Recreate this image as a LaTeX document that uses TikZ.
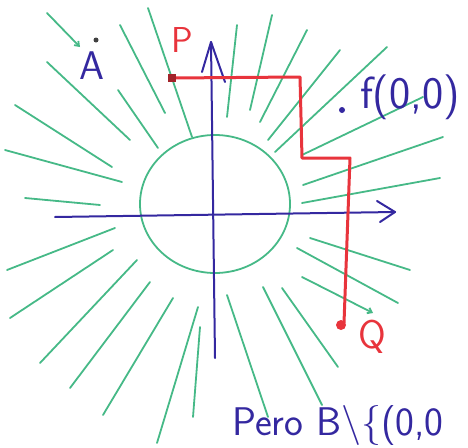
\documentclass[tikz,border=0pt]{standalone}
\usepackage{fontspec}
\usetikzlibrary{arrows.meta}
\definecolor{raygreen}{RGB}{70,185,135}
\definecolor{axblue}{RGB}{52,40,160}
\definecolor{penred}{RGB}{232,52,60}
\begin{document}
\begin{tikzpicture}[x=1pt,y=-1pt,
  ray/.style={draw=raygreen, line width=1.8pt, line cap=round},
  axis/.style={draw=axblue, line width=2pt, line cap=round, line join=round},
  redpath/.style={draw=penred, line width=3pt, line join=round, line cap=round},
  hand/.style={inner sep=0pt}]
\useasboundingbox (0,0) rectangle (468,447);
\clip (0,0) rectangle (468,447);
% rays (outer end -> inner end)
\foreach \xa/\ya/\xb/\yb in {
  47/62/130/140, 15/105/112/167, 5/150/122/182, 25/198/100/205,
  118/90/158/148, 120/25/165/113, 148/8/192/137, 237/25/227/117,
  272/15/250/110, 307/30/260/122, 340/50/268/140, 387/47/275/152,
  423/97/302/155, 443/137/303/185, 440/178/302/203,
  7/270/115/228, 10/318/113/250, 40/363/137/260, 70/388/150/282,
  103/415/173/298, 157/443/198/307, 193/417/200/327,
  410/270/310/238, 398/303/297/248, 338/367/282/288,
  322/405/263/287, 268/417/227/295}
  \draw[ray] (\xa,\ya) -- (\xb,\yb);
\draw[ray, -{Straight Barb[length=4pt,width=6pt]}] (47,13) -- (80,47);
\draw[ray, -{Straight Barb[length=4pt,width=6pt]}] (302,277) -- (373,313);
% circle
\draw[ray] (215,204) ellipse [x radius=75, y radius=69];
% axes
\coordinate (xs) at (55,217);
\coordinate (xe) at (395,212);
\coordinate (ys) at (215,358);
\coordinate (ye) at (211,42);
\draw[axis] (xs) -- (xe);
\draw[axis] (377,201) -- (xe) -- (380,222);
\draw[axis] (ys) -- (ye);
\draw[axis] (202,72) -- (ye) -- (225,82);
% red path
\coordinate (P) at (172,78);
\coordinate (Q) at (344,323);
\draw[redpath] (P) -- (300,77) -- (302,158) -- (350,158) -- (Q);
\fill[penred!70!black] (168,74) rectangle (176,82);
\fill[penred] (341,325) circle (5);
% labels
\node[hand, text=axblue, font=\sffamily\fontsize{40}{40}\selectfont] (Alab) at (92,66) {A};
\fill[black!75] (96,40) circle (2.5);
\node[hand, text=penred, font=\sffamily\fontsize{36}{36}\selectfont] (Plab) at (182,40) {P};
\node[hand, text=penred, font=\sffamily\fontsize{40}{40}\selectfont] (Qlab) at (372,337) {Q};
\fill[axblue] (342,110) circle (3);
\node[hand, text=axblue, font=\sffamily\fontsize{45}{45}\selectfont] (flab) at (410,97) {f(0,0)};
\node[hand, anchor=base west, text=axblue, font=\sffamily\fontsize{40}{40}\selectfont] (pero) at (232,435) {Pero B\textbackslash\{(0,0};
\end{tikzpicture}
\end{document}
